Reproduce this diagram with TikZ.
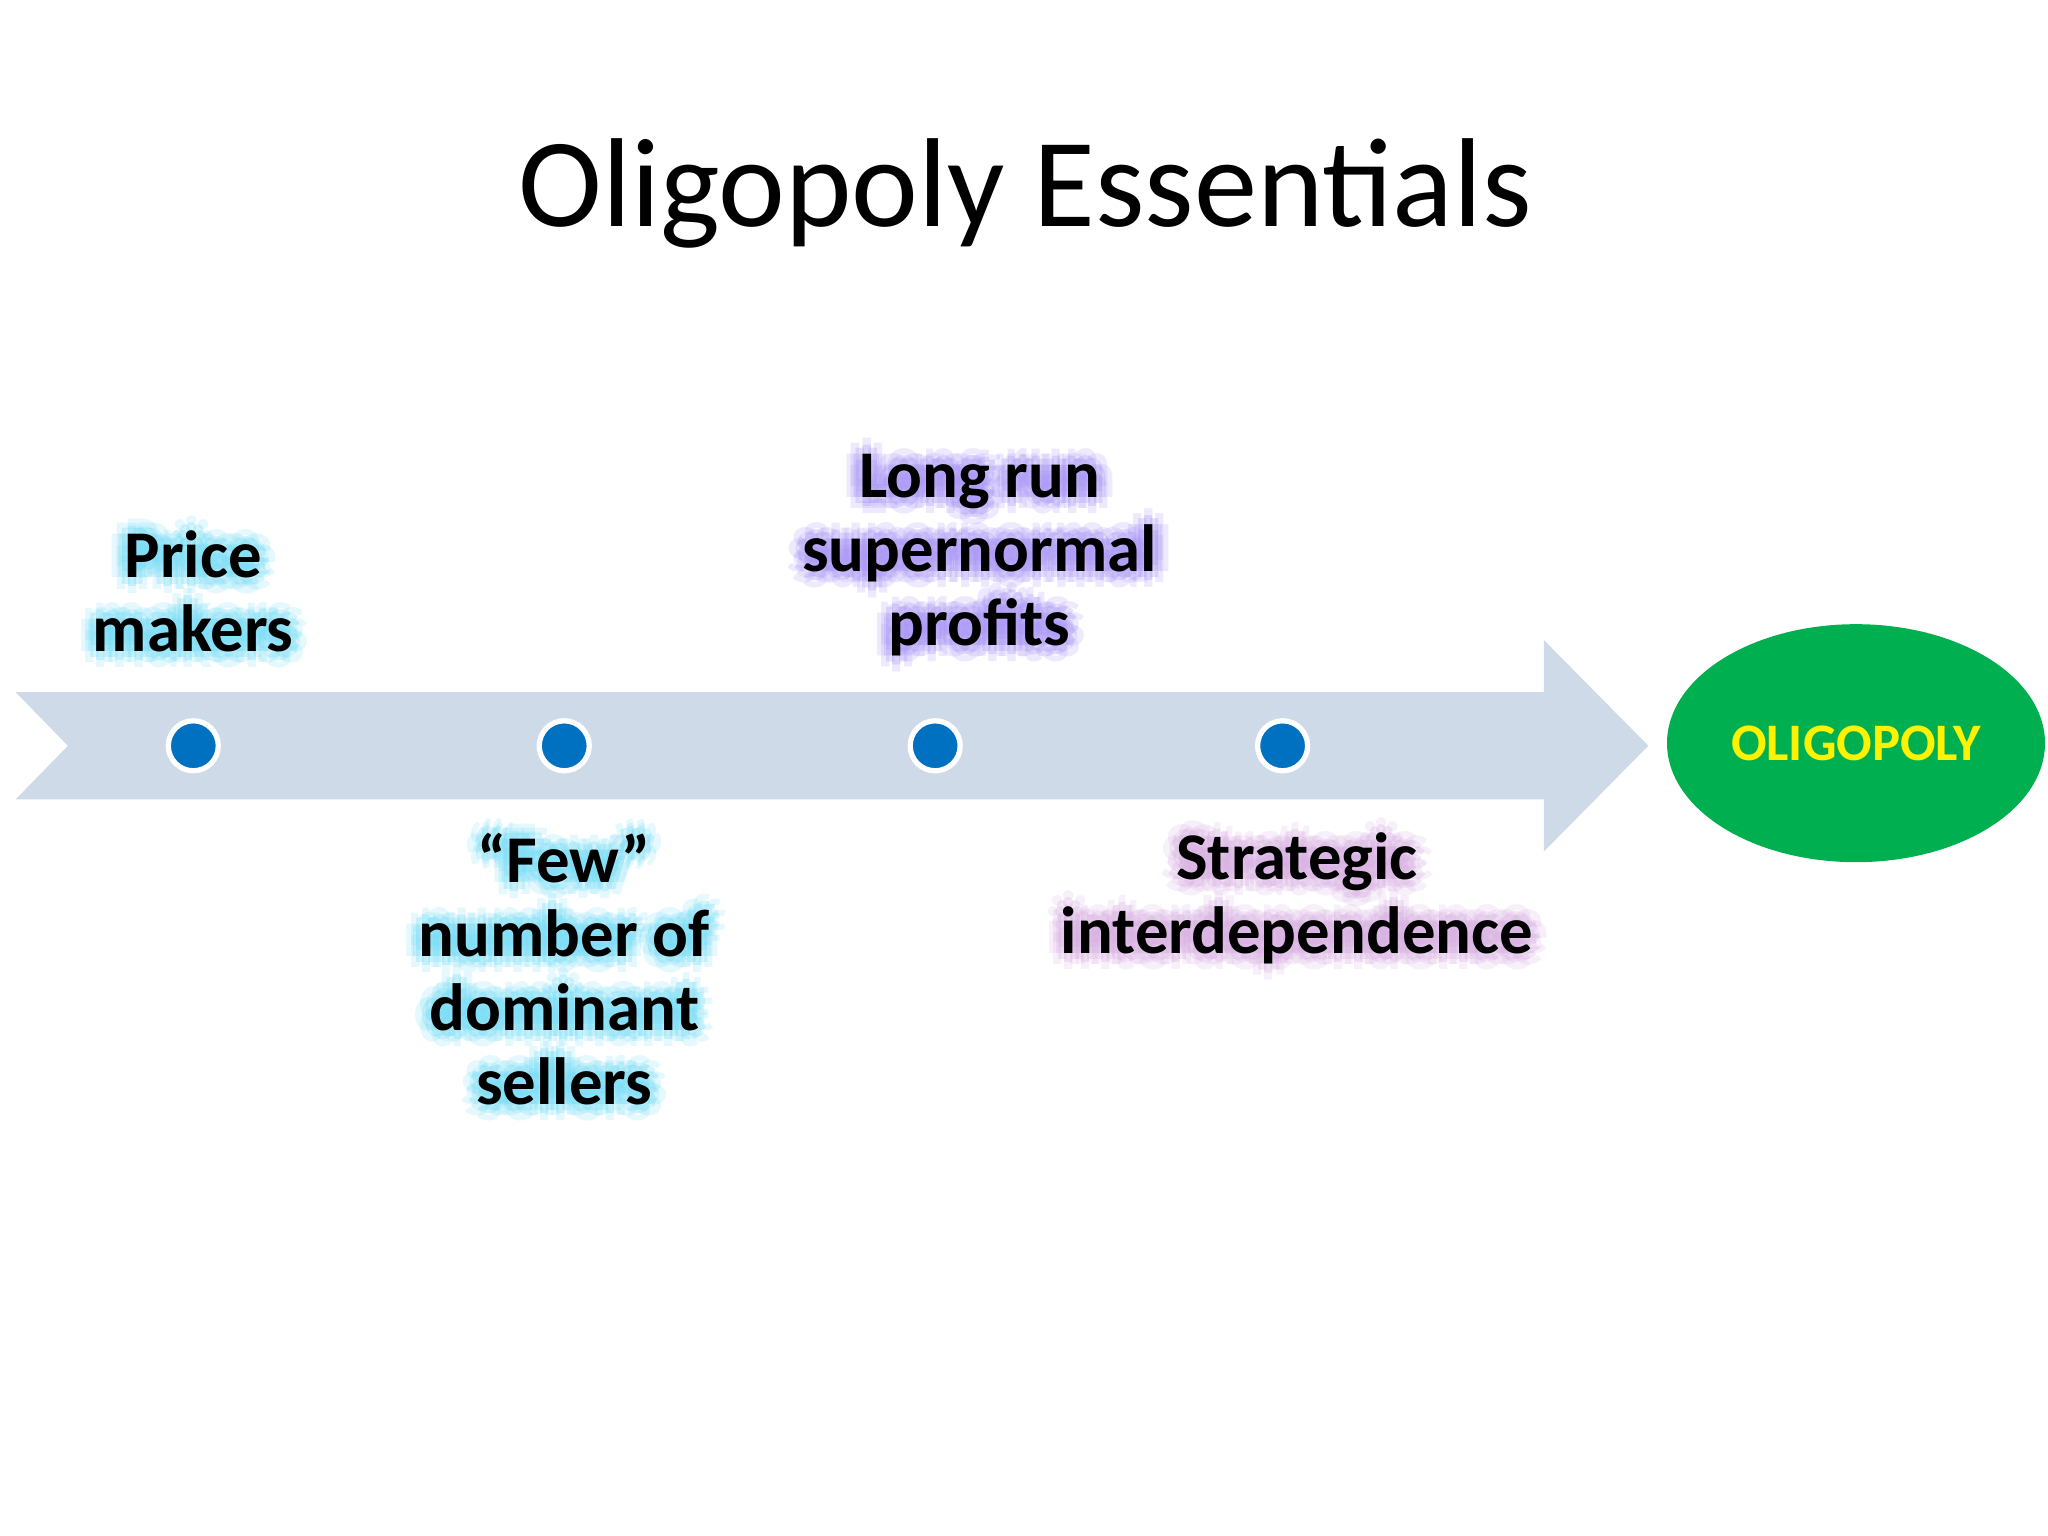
\documentclass[tikz,border=0pt]{standalone}
\usepackage{fontspec}
\setmainfont{Carlito}
\usetikzlibrary{shapes.geometric}
\definecolor{arrowc}{RGB}{207,218,232}
\definecolor{dotc}{RGB}{0,112,192}
\definecolor{ovalc}{RGB}{0,176,80}
\definecolor{cyanglow}{RGB}{120,220,245}
\definecolor{purpglow}{RGB}{170,150,245}
\definecolor{pinkglow}{RGB}{215,175,225}
\begin{document}
\begin{tikzpicture}[x=0.01306cm,y=-0.01306cm,
  lbl/.style={font=\bfseries\fontsize{19}{21}\selectfont,align=center,inner sep=0pt},
  dot/.style={circle,fill=dotc,draw=white,line width=1.5pt,minimum size=0.5cm,inner sep=0pt}]
\useasboundingbox (0,0) rectangle (1568,1176);
\node (title) at (785,148) {\fontsize{36}{42}\selectfont Oligopoly Essentials};
\fill[arrowc] (12,530) -- (1182,530) -- (1182,490) -- (1262,571) -- (1182,652) -- (1182,612) -- (12,612) -- (52,571) -- cycle;
\node[dot] (d1) at (148,571) {};
\node[dot] (d2) at (432,571) {};
\node[dot] (d3) at (716,571) {};
\node[dot] (d4) at (982,571) {};
\node[ellipse,fill=ovalc,minimum width=3.78cm,minimum height=2.38cm,inner sep=0pt] (ov) at (1421,569) {};
\node[font=\bfseries\fontsize{15}{18}\selectfont,text=yellow] (ovt) at (ov) {OLIGOPOLY};
\foreach \t/\x/\y/\c [count=\i] in {{Price\\makers}/148/453/cyanglow,
  {“Few”\\number of\\dominant\\sellers}/432/742/cyanglow,
  {Long run\\supernormal\\profits}/750/425/purpglow,
  {Strategic\\interdependence}/993/688/pinkglow}{
  \foreach \a in {0,45,...,315}{
    \node[lbl,text=\c,opacity=0.3] (g\i-\a) at ([shift={(\a:2.5pt)}]\x,\y) {\t};
    \node[lbl,text=\c,opacity=0.2] (h\i-\a) at ([shift={(\a:4.5pt)}]\x,\y) {\t};
  }
  \node[lbl] (l\i) at (\x,\y) {\t};
}
\end{tikzpicture}
\end{document}
